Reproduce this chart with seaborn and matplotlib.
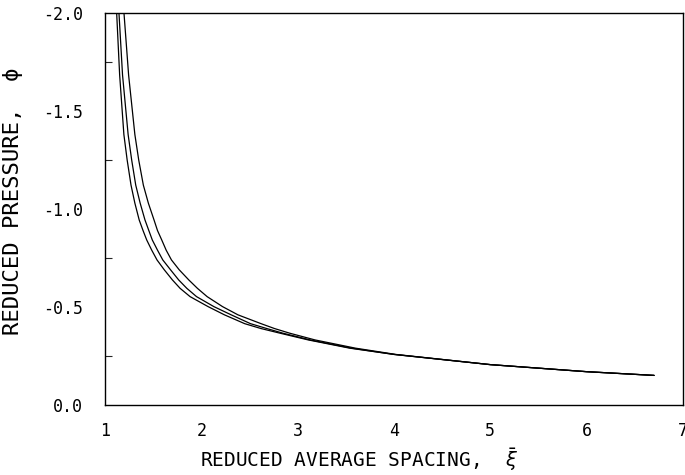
"""Reduced pressure vs reduced average spacing (three curves)."""
import matplotlib
matplotlib.use("Agg")
import matplotlib.pyplot as plt
from matplotlib.ticker import MultipleLocator
import pandas as pd
import seaborn as sns

# values
phi_levels = [-2.0, -1.684, -1.38, -1.25, -1.122, -1.03, -0.944, -0.89, -0.842,
              -0.79, -0.74, -0.69, -0.638, -0.595, -0.553, -0.502, -0.46, -0.415,
              -0.39, -0.366, -0.332, -0.29, -0.258, -0.206, -0.17, -0.151]

xi_inner = [1.121, 1.152, 1.196, 1.23, 1.27, 1.31, 1.355, 1.395, 1.433,
            1.485, 1.54, 1.615, 1.70, 1.78, 1.883, 2.07, 2.24, 2.45,
            2.62, 2.82, 3.11, 3.54, 4.0, 5.0, 6.0, 6.7]
xi_middle = [1.145, 1.182, 1.24, 1.277, 1.319, 1.365, 1.415, 1.455, 1.491,
             1.545, 1.60, 1.68, 1.765, 1.85, 1.95, 2.13, 2.31, 2.51,
             2.68, 2.85, 3.13, 3.56, 4.0, 5.0, 6.0, 6.7]
xi_outer = [1.197, 1.245, 1.31, 1.35, 1.398, 1.45, 1.509, 1.545, 1.589,
            1.635, 1.69, 1.77, 1.87, 1.96, 2.06, 2.22, 2.38, 2.62,
            2.76, 2.92, 3.18, 3.60, 4.02, 5.0, 6.0, 6.7]

x_ticks = [1, 2, 3, 4, 5, 6, 7]
y_ticks = [0.0, -0.5, -1.0, -1.5, -2.0]

df = pd.concat([
    pd.DataFrame({"xi": xi_inner, "phi": phi_levels, "curve": "inner"}),
    pd.DataFrame({"xi": xi_middle, "phi": phi_levels, "curve": "middle"}),
    pd.DataFrame({"xi": xi_outer, "phi": phi_levels, "curve": "outer"}),
], ignore_index=True)

sns.set_theme(style="white")
plt.rcParams["font.family"] = ["DejaVu Sans Mono", "DejaVu Sans"]
plt.rcParams["axes.unicode_minus"] = False
plt.rcParams["mathtext.fontset"] = "dejavusans"

fig = plt.figure(figsize=(6.85, 4.75), dpi=100)
ax = fig.add_axes([105 / 685, 1 - 405 / 475, 578 / 685, 392 / 475])

sns.lineplot(data=df, x="xi", y="phi", units="curve", estimator=None, sort=False,
             color="black", lw=0.9, ax=ax, legend=False)

ax.set_xlim(1, 7)
ax.set_ylim(0, -2.0)
ax.set_xticks(x_ticks)
ax.set_xticklabels([str(t) for t in x_ticks])
ax.set_yticks(y_ticks)
ax.set_yticklabels([f"{t:.1f}" for t in y_ticks])
ax.yaxis.set_minor_locator(MultipleLocator(0.25))

ax.tick_params(axis="x", which="major", direction="in", length=6, width=0.9,
               pad=12, labelsize=12, colors="black")
ax.tick_params(axis="y", which="major", direction="in", length=7, width=0.9,
               pad=16, labelsize=12, colors="black")
ax.tick_params(axis="y", which="minor", direction="in", length=5, width=0.8, left=True)

for s in ax.spines.values():
    s.set_color("black")
    s.set_linewidth(1.0)

ax.set_xlabel(r"REDUCED AVERAGE SPACING,  $\bar{\xi}$", fontsize=14, color="black")
ax.xaxis.set_label_coords(0.44, -0.105)
ax.set_ylabel("REDUCED PRESSURE,  ϕ", fontsize=16, color="black")
ax.yaxis.set_label_coords(-0.142, 0.52)

fig.savefig("out.png", dpi=100)
plt.close(fig)
